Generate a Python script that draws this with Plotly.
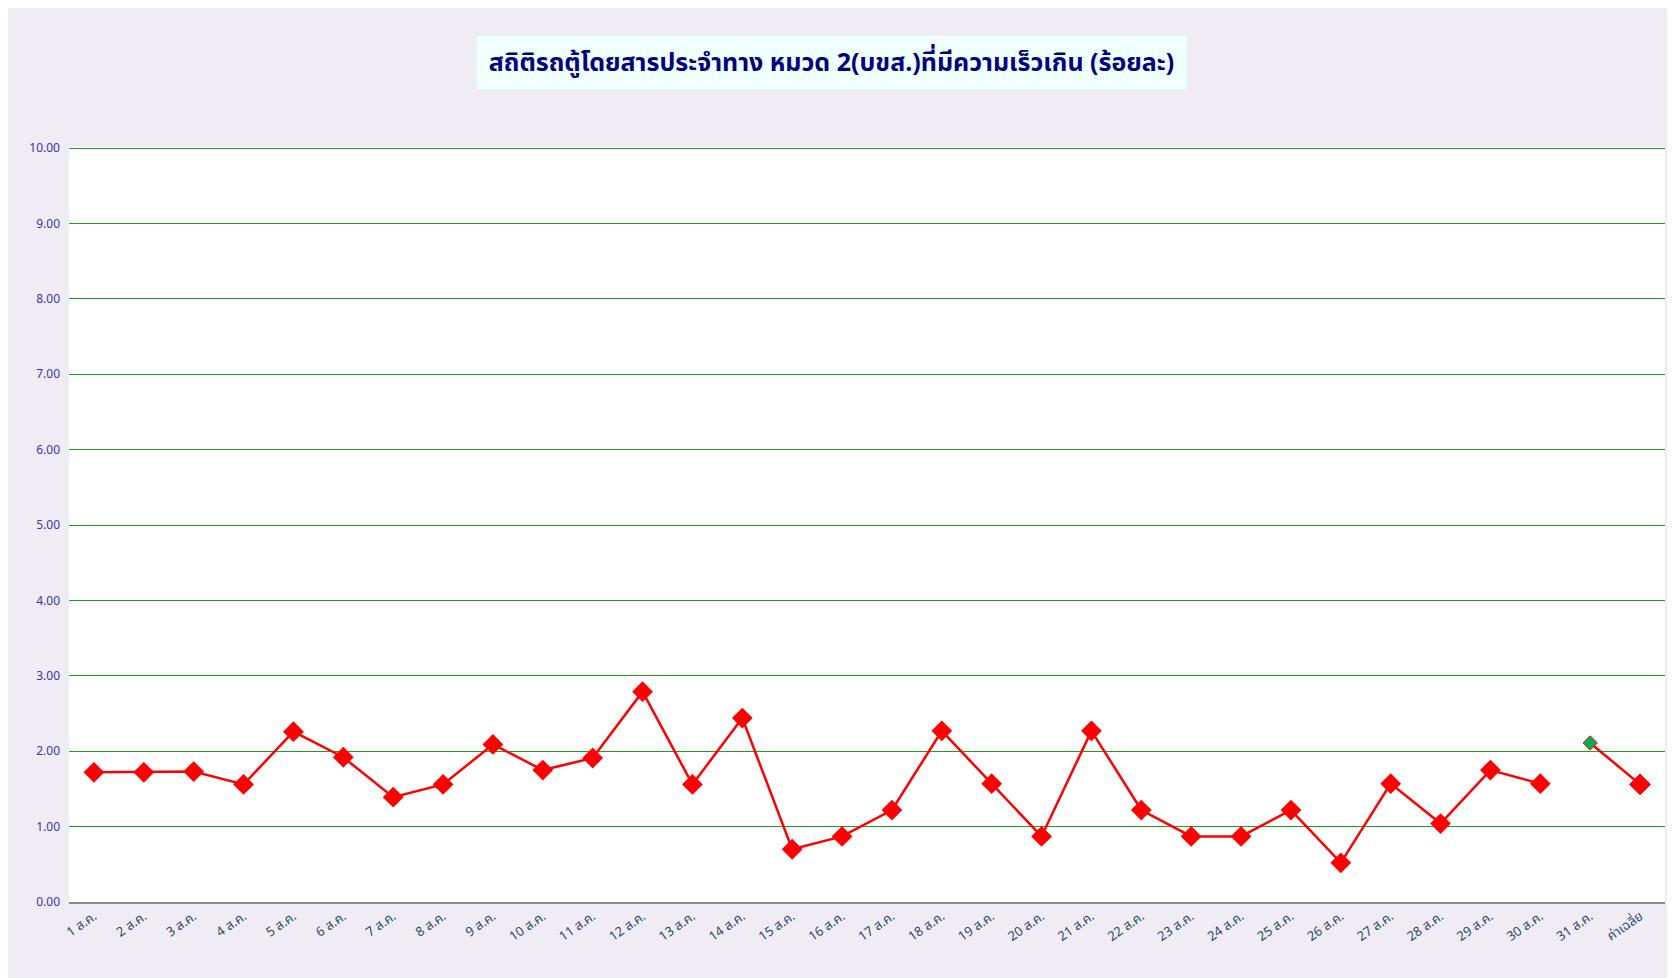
import plotly.graph_objects as go

# ข้อมูล: ร้อยละของรถที่มีความเร็วเกิน รายวัน (ส.ค.)
days = [f"{d} ส.ค." for d in range(1, 31)]
day_values = [1.72, 1.72, 1.73, 1.56, 2.26, 1.92, 1.39, 1.56, 2.09, 1.75,
              1.91, 2.79, 1.56, 2.44, 0.70, 0.87, 1.22, 2.27, 1.57, 0.87,
              2.27, 1.22, 0.87, 0.87, 1.22, 0.52, 1.57, 1.04, 1.75, 1.57]
tail_labels = ["31 ส.ค.", "ค่าเฉลี่ย"]
tail_values = [2.11, 1.56]
y_ticks = [0, 1, 2, 3, 4, 5, 6, 7, 8, 9, 10]

# ขนาดรูป (หน้าเว็บมี margin 8px อยู่แล้ว)
W, H = 1667, 970
L, R, T, B = 61, 10, 139, 76
pw, ph = W - L - R, H - T - B


def px_x(p):
    return (p - L) / pw


def px_y(p):
    return (H - B - p) / ph


fig = go.Figure()

fig.add_trace(go.Scatter(
    x=days, y=day_values, mode="lines+markers",
    line={"color": "#FF0000", "width": 2.5},
    marker={"symbol": "diamond", "size": 16, "color": "#FF0000", "opacity": 1},
    showlegend=False,
))

# 31 ส.ค. (จุดสีเขียว) ต่อกับค่าเฉลี่ย
fig.add_trace(go.Scatter(
    x=tail_labels, y=tail_values, mode="lines+markers",
    line={"color": "#FF0000", "width": 2.5},
    marker={"symbol": "diamond", "size": [11, 16],
            "color": ["#00B050", "#FF0000"], "opacity": 1},
    showlegend=False,
))

fig.update_layout(
    width=W, height=H,
    margin={"l": L, "r": R, "t": T, "b": B},
    paper_bgcolor="#F0ECF4",
    plot_bgcolor="#FFFFFF",
    font={"family": "Tahoma, 'Noto Sans Thai', 'Noto Sans', sans-serif"},
    xaxis={
        "type": "category",
        "categoryorder": "array",
        "categoryarray": days + tail_labels,
        "range": [-0.5, 31.5],
        "showgrid": False,
        "showline": True, "linecolor": "#8C8C8C", "linewidth": 1.5,
        "tickangle": -35,
        "tickfont": {"size": 13, "color": "#2E4A70"},
        "ticks": "",
    },
    yaxis={
        "range": [0, 10.015],
        "tickvals": y_ticks,
        "tickformat": ".2f",
        "showgrid": True, "gridcolor": "#1EA01E", "gridwidth": 1,
        "zeroline": False,
        "tickfont": {"size": 12, "color": "#3F30B8"},
        "ticks": "", "ticklabelstandoff": 8,
    },
    annotations=[{
        "text": "<b>สถิติรถตู้โดยสารประจำทาง หมวด 2(บขส.)ที่มีความเร็วเกิน (ร้อยละ)</b>",
        "xref": "paper", "yref": "paper",
        "x": px_x(823.5), "y": px_y(54.5),
        "xanchor": "center", "yanchor": "middle",
        "showarrow": False,
        "width": 707, "height": 51,
        "bgcolor": "#F0FFFF",
        "font": {"size": 25, "color": "#000080"},
    }],
)

fig.write_html("out.html")
